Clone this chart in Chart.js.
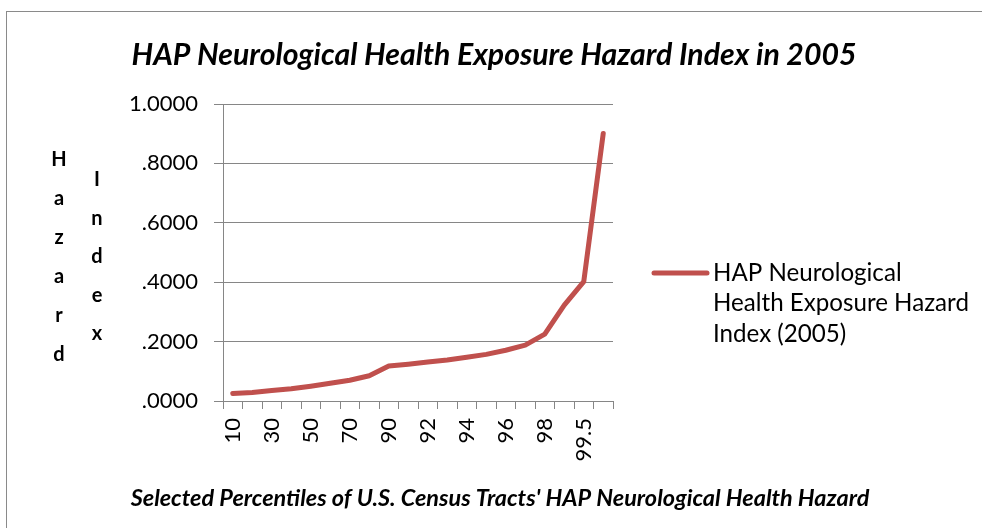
<!DOCTYPE html>
<html>
<head>
<meta charset="utf-8">
<script src="https://cdn.jsdelivr.net/npm/chart.js@4/dist/chart.umd.min.js"></script>
<style>
html,body{margin:0;padding:0;background:#fff;}
#wrap{position:relative;width:982px;height:528px;}
</style>
</head>
<body>
<div id="wrap"><canvas id="c" width="982" height="528"></canvas></div>
<script>
// ---- data ----
const percentiles = ['10','20','30','40','50','60','70','80','90','91','92','93','94','95','96','97','98','99','99.5','99.9'];
const hazardIndex = [0.025,0.029,0.035,0.041,0.050,0.060,0.070,0.085,0.118,0.124,0.131,0.138,0.147,0.157,0.171,0.188,0.225,0.323,0.402,0.901];
const yTicks = [0, 0.2, 0.4, 0.6, 0.8, 1.0];
const chartTitle = 'HAP Neurological Health Exposure Hazard Index in 2005';
const xTitle = "Selected Percentiles of U.S. Census Tracts' HAP Neurological Health Hazard";
const yTitleCol1 = 'Hazard';
const yTitleCol2 = 'Index';
const legendLines = ['HAP Neurological', 'Health Exposure Hazard', 'Index (2005)'];

const FONT = 'Lato, "Liberation Sans", sans-serif';
const RED = '#C0504D';
const GRAY = '#868686';

function fitFont(ctx, text, style, targetW, start) {
  let s = start;
  ctx.font = style + ' ' + s + 'px ' + FONT;
  const w = ctx.measureText(text).width;
  s = s * targetW / w;
  return style + ' ' + s.toFixed(2) + 'px ' + FONT;
}

const decor = {
  id: 'decor',
  beforeDraw(chart) {
    const ctx = chart.ctx;
    ctx.save();
    ctx.fillStyle = '#fff';
    ctx.fillRect(0, 0, chart.width, chart.height);
    ctx.strokeStyle = '#8a8a8a';
    ctx.lineWidth = 1;
    ctx.strokeRect(6.5, 11.5, 1200, 1200);
    ctx.restore();
  },
  afterDraw(chart) {
    const ctx = chart.ctx;
    ctx.save();
    ctx.fillStyle = '#000';
    ctx.textBaseline = 'middle';
    ctx.textAlign = 'center';
    // title
    ctx.font = fitFont(ctx, chartTitle, 'italic bold', 725, 26);
    ctx.fillText(chartTitle, 494, 55);
    // x title
    ctx.font = fitFont(ctx, xTitle, 'italic bold', 739, 18);
    ctx.fillText(xTitle, 500, 498);
    // y title columns
    ctx.font = 'bold 20px ' + FONT;
    for (let i = 0; i < yTitleCol1.length; i++) ctx.fillText(yTitleCol1[i], 59, 160 + i * 39);
    for (let i = 0; i < yTitleCol2.length; i++) ctx.fillText(yTitleCol2[i], 97, 180 + i * 38.5);
    // legend
    ctx.strokeStyle = RED;
    ctx.lineWidth = 5;
    ctx.lineCap = 'round';
    ctx.beginPath();
    ctx.moveTo(654, 273);
    ctx.lineTo(707, 273);
    ctx.stroke();
    ctx.textAlign = 'left';
    ctx.font = fitFont(ctx, legendLines[1], 'normal', 256, 20);
    legendLines.forEach((t, i) => ctx.fillText(t, 713, 273 + i * 30.5));
    ctx.restore();
  }
};

new Chart(document.getElementById('c'), {
  type: 'line',
  data: {
    labels: percentiles,
    datasets: [{
      label: 'HAP Neurological Health Exposure Hazard Index (2005)',
      data: hazardIndex,
      borderColor: RED,
      backgroundColor: RED,
      borderWidth: 5,
      pointRadius: 0,
      tension: 0,
      borderCapStyle: 'round',
      borderJoinStyle: 'round',
      fill: false
    }]
  },
  options: {
    responsive: false,
    animation: false,
    devicePixelRatio: 1,
    layout: { autoPadding: false, padding: { top: 104, left: 0, right: 369, bottom: 0 } },
    plugins: { legend: { display: false }, title: { display: false }, tooltip: { enabled: false } },
    scales: {
      x: {
        type: 'category',
        offset: true,
        afterFit(s) { s.height = 127; },
        border: { display: true, color: GRAY, width: 1 },
        grid: { display: true, offset: true, drawOnChartArea: false, drawTicks: true, tickLength: 8, color: GRAY },
        ticks: {
          autoSkip: false,
          maxRotation: 90,
          minRotation: 90,
          padding: 9,
          color: '#000',
          font: { family: FONT, size: 22 },
          callback(v, i) { return i % 2 === 0 ? percentiles[i] : ''; }
        }
      },
      y: {
        min: 0,
        max: 1,
        afterFit(s) { s.width = 223; },
        afterBuildTicks(s) { s.ticks = yTicks.map(v => ({ value: v })); },
        border: { display: true, color: GRAY, width: 1 },
        grid: { color: GRAY, lineWidth: 1, tickLength: 9, drawTicks: true },
        ticks: {
          padding: 16,
          color: '#000',
          font: { family: FONT, size: 22 },
          callback(v) { return v >= 1 ? v.toFixed(4) : v.toFixed(4).replace(/^0/, ''); }
        }
      }
    }
  },
  plugins: [decor]
});
</script>
</body>
</html>
